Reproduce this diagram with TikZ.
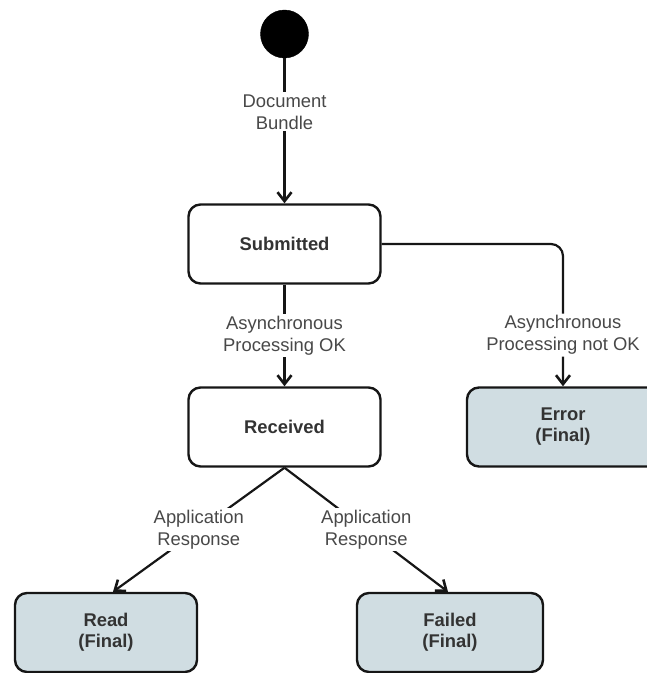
\documentclass[tikz,border=0pt]{standalone}
\usepackage{fontspec}
\setmainfont{Liberation Sans}
\usetikzlibrary{arrows.meta}

\definecolor{edgeink}{RGB}{22,22,22}
\definecolor{textink}{RGB}{51,51,51}
\definecolor{labelink}{RGB}{72,72,72}
\definecolor{finalfill}{RGB}{208,221,226}

\tikzset{
  statebox/.style={draw=edgeink, line width=2.4pt, rounded corners=12pt,
    fill=white, minimum width=192pt, minimum height=79pt,
    align=center, text=textink, font=\fontsize{18.4}{21}\selectfont\bfseries},
  finalbox/.style={statebox, fill=finalfill},
  initial/.style={circle, fill=black, draw=black, minimum size=48pt, inner sep=0pt},
  trans/.style={draw=edgeink, line width=2.2pt,
    -{Straight Barb[length=9pt, width=14pt, line width=2.6pt]}},
  translabel/.style={fill=white, inner sep=2pt, align=center, text=labelink,
    font=\fontsize{18.4}{22}\selectfont}
}

\begin{document}
\begin{tikzpicture}[x=1pt, y=-1pt]
  % page frame: 647 x 673
  \clip (0,0) rectangle (647,673);
  \useasboundingbox (0,0) rectangle (647,673);

  % states
  \node[initial] (start) at (284.5,34) {};
  \node[statebox] (sub) at (284.5,244) {Submitted};
  \node[statebox] (rec) at (284.5,427) {Received};
  \node[finalbox] (err) at (563,427) {Error\\(Final)};
  \node[finalbox, minimum width=182pt] (read) at (106,632.5) {Read\\(Final)};
  \node[finalbox, minimum width=186pt] (fail) at (450,632.5) {Failed\\(Final)};

  % transitions
  \draw[trans] (start.south) -- node[translabel, pos=0.37] {Document\\Bundle} (sub.north);
  \draw[trans] (sub.south) -- node[translabel, midway] {Asynchronous\\Processing OK} (rec.north);
  \draw[trans, rounded corners=12pt] (sub.east) -| node[translabel, pos=0.82] {Asynchronous\\Processing not OK} (err.north);
  \draw[trans] (rec.south) -- node[translabel, midway] {Application\\Response} ([xshift=7pt]read.north);
  \draw[trans] (rec.south) -- node[translabel, midway] {Application\\Response} ([xshift=-2pt]fail.north);
\end{tikzpicture}
\end{document}
